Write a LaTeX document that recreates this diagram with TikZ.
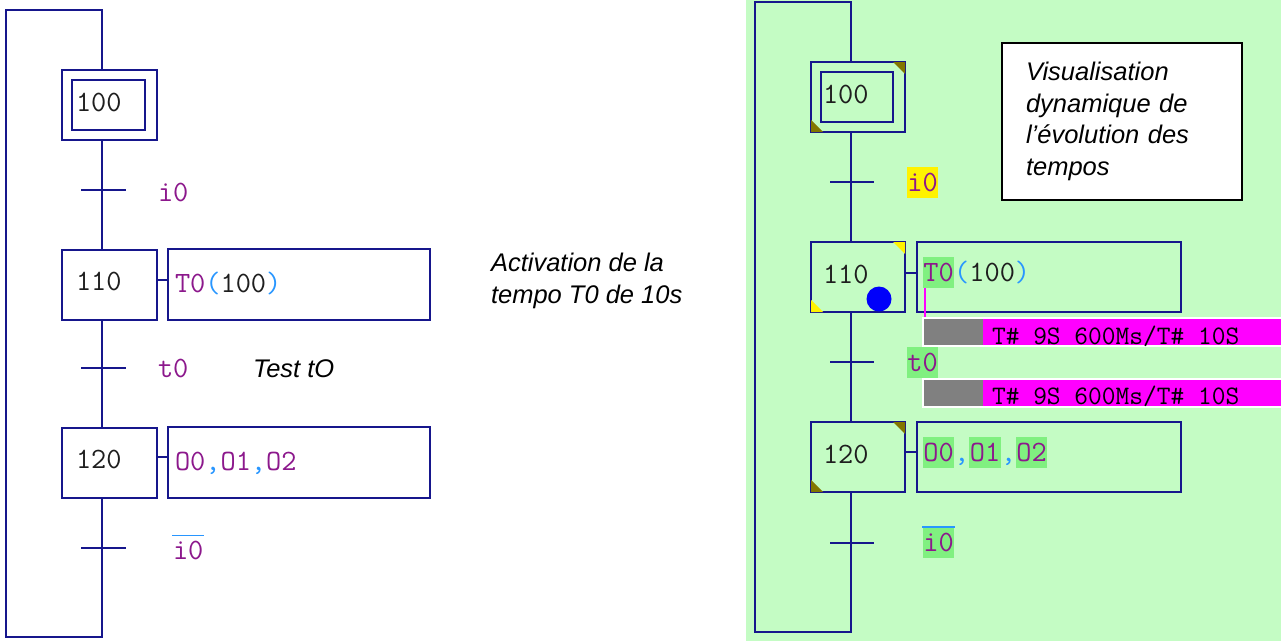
\documentclass[tikz,border=0pt]{standalone}
\usepackage{fontspec}
\usepackage{tikz}
\newfontfamily\notefont{Liberation Sans}
\definecolor{gline}{RGB}{22,22,140}
\definecolor{lbl}{RGB}{140,24,140}
\definecolor{paren}{RGB}{40,150,255}
\definecolor{chiffre}{RGB}{30,30,30}
\definecolor{fondvert}{RGB}{196,252,196}
\definecolor{surlvert}{RGB}{128,240,128}
\definecolor{surljaune}{RGB}{255,242,0}
\definecolor{kaki}{RGB}{130,118,0}
\definecolor{jeton}{RGB}{0,0,250}
\definecolor{fuchsia}{RGB}{255,0,255}
\definecolor{gris}{RGB}{128,128,128}
\newcommand\surl[2]{{\setlength\fboxsep{0.5pt}\colorbox{#1}{\rule[-6pt]{0pt}{30pt}#2}}}

\begin{document}
\begin{tikzpicture}[x=1pt,y=-1pt,line width=2pt,
    font=\fontsize{29.5}{32}\selectfont\ttfamily,
    etape/.style={draw=gline,minimum width=95pt,minimum height=70pt,inner xsep=14pt,inner ysep=0pt,
      text width=67pt,align=left,text height=20pt,text depth=8pt,text=chiffre},
    action/.style={draw=gline,minimum width=262pt,minimum height=71pt,inner sep=0pt},
    txt/.style={anchor=base west,inner sep=0pt,text=lbl},
    bar/.style={anchor=base west,inner sep=0pt,font=\fontsize{26.7}{28}\selectfont\ttfamily},
    note/.style={font=\notefont\itshape\fontsize{25.5}{31.7}\selectfont,align=left,inner sep=0pt}]
  \useasboundingbox (0,0) rectangle (1281,641);
  % grafcet en edition
  \coordinate (lg) at (102,0);
  \coordinate (hg) at (6,9.5);
  \coordinate (bg) at (6,637);
  \node[etape] (e100) at (109.5,105) {};
  \node[etape,minimum width=73pt,minimum height=50pt,inner xsep=4pt,text width=65pt] (e100i) at (108.5,105) {100};
  \node[etape] (e110) at (109.5,284.5) {110};
  \node[etape] (e120) at (109.5,462.5) {120};
  \node[action] (a110) at (299,284.5) {};
  \node[action] (a120) at (299,462.5) {};
  \node[txt] (x110) at (174,292) {T0\textcolor{paren}{(}\textcolor{chiffre}{100}\textcolor{paren}{)}};
  \node[txt] (x120) at (174,470) {O0\textcolor{paren}{,}O1\textcolor{paren}{,}O2};
  \draw[gline] ([yshift=4.5pt]e110.east) -- ([yshift=4.5pt]a110.west);
  \draw[gline] ([yshift=5.5pt]e120.east) -- ([yshift=5.5pt]a120.west);
  \draw[gline] (e100.south -| lg) -- (e110.north -| lg);
  \draw[gline] (e110.south -| lg) -- (e120.north -| lg);
  \draw[gline] (e120.south -| lg) -- (lg |- bg) -- (bg) -- (hg) -- (lg |- hg) -- (e100.north -| lg);
  \foreach \n/\y in {t1/190,t2/368,t3/548} {
    \coordinate (\n) at (103.5,\y);
    \draw[gline] ([xshift=-22.5pt]\n) -- ([xshift=22.5pt]\n);
  }
  \node[txt] (r1) at (157,201) {i0};
  \node[txt] (r2) at (157,377) {t0};
  \node[txt] (r3) at (172,559) {i0};
  \draw[paren,line width=1.5pt] ([yshift=4pt]r3.north west) -- ([yshift=4pt]r3.north east);
  \node[note,anchor=west] (act) at (490,281) {Activation de la\\tempo T0 de 10s};
  \node[note,anchor=west] (tst) at (252,369) {Test tO};

  % grafcet en visualisation dynamique
  \fill[fondvert] (746,0) rectangle (1281,641);
  \begin{scope}[line width=1.6pt,
      etape/.append style={minimum width=94pt,inner xsep=12pt,text width=70pt},
      action/.append style={minimum width=264pt,minimum height=70pt}]
    \coordinate (ld) at (851,0);
    \coordinate (hd) at (755,2);
    \coordinate (bd) at (755,632);
    \node[etape] (f100) at (858,97) {};
    \node[etape,minimum width=72pt,minimum height=50pt,inner xsep=2pt,text width=68pt] (f100i) at (857,97) {100};
    \node[etape] (f110) at (858,277) {110};
    \node[etape] (f120) at (858,457) {120};
    \node[action] (g110) at (1049,277) {};
    \node[action] (g120) at (1049,457) {};
    \foreach \e/\c in {f100/kaki,f110/surljaune,f120/kaki} {
      \fill[\c] ([shift={(-0.8,0.8)}]\e.north east) -- ++(-12,0) -- ++(12,12) -- cycle;
      \fill[\c] ([shift={(0.8,-0.8)}]\e.south west) -- ++(12,0) -- ++(-12,-12) -- cycle;
    }
    \node[circle,fill=jeton,minimum size=25pt,inner sep=0pt] (jt) at (879,299) {};
    \draw[gline] ([yshift=4pt]f110.east) -- ([yshift=4pt]g110.west);
    \draw[gline] ([yshift=5pt]f120.east) -- ([yshift=5pt]g120.west);
    \draw[gline] (f100.south -| ld) -- (f110.north -| ld);
    \draw[gline] (f110.south -| ld) -- (f120.north -| ld);
    \draw[gline] (f120.south -| ld) -- (ld |- bd) -- (bd) -- (hd) -- (ld |- hd) -- (f100.north -| ld);
    \foreach \n/\y in {u1/182,u2/362,u3/543} {
      \coordinate (\n) at (852,\y);
      \draw[gline] ([xshift=-22pt]\n) -- ([xshift=22pt]\n);
    }
    \node[txt] (s1) at (906,191) {\surl{surljaune}{i0}};
    \node[txt] (s2) at (906,371) {\surl{surlvert}{t0}};
    \node[txt] (s3) at (922,551) {\surl{surlvert}{i0}};
    \draw[paren,line width=2pt] ([yshift=-1.5pt]s3.north west) -- ([yshift=-1.5pt]s3.north east);
    \node[txt] (y110) at (922,281) {\surl{surlvert}{T0}\textcolor{paren}{(}\textcolor{chiffre}{100}\textcolor{paren}{)}};
    \node[txt] (y120) at (922,461) {\surl{surlvert}{O0}\textcolor{paren}{,}\surl{surlvert}{O1}\textcolor{paren}{,}\surl{surlvert}{O2}};
  \end{scope}
  % barres de tempo
  \foreach \y in {317,378} {
    \fill[white] (922,\y) rectangle (1281,\y+30);
    \fill[gris] (924,\y+2) rectangle (982.5,\y+28);
    \fill[fuchsia] (983,\y+2) rectangle (1281,\y+28);
  }
  \draw[fuchsia,line width=1.2pt] ([xshift=3pt]y110.south west) -- ++(0,29);
  \node[bar] (b1) at (991,344) {T\# 9S 600Ms/T\# 10S};
  \node[bar] (b2) at (991,404) {T\# 9S 600Ms/T\# 10S};
  \node[note,draw=black,line width=1.5pt,fill=white,minimum width=240pt,minimum height=157pt,
    inner xsep=24pt,text width=192pt] (vis) at (1122,121.5) {Visualisation\\dynamique de\\l’évolution des\\tempos};
\end{tikzpicture}
\end{document}
